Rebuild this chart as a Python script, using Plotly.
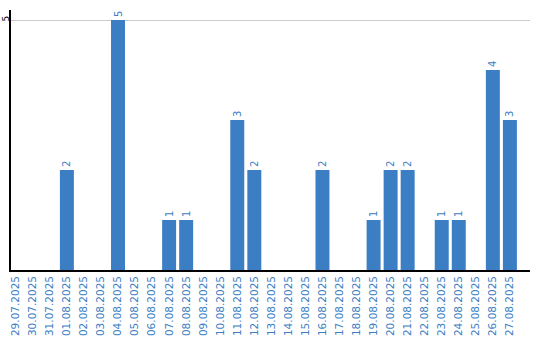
import plotly.graph_objects as go

dates = ["29.07.2025","30.07.2025","31.07.2025","01.08.2025","02.08.2025","03.08.2025",
         "04.08.2025","05.08.2025","06.08.2025","07.08.2025","08.08.2025","09.08.2025",
         "10.08.2025","11.08.2025","12.08.2025","13.08.2025","14.08.2025","15.08.2025",
         "16.08.2025","17.08.2025","18.08.2025","19.08.2025","20.08.2025","21.08.2025",
         "22.08.2025","23.08.2025","24.08.2025","25.08.2025","26.08.2025","27.08.2025"]
values = [0,0,0,2,0,0,5,0,0,1,1,0,0,3,2,0,0,0,2,0,0,1,2,2,0,1,1,0,4,3]

blue = "#3b7ec4"
labels = [str(v) if v > 0 else "" for v in values]
font = "DejaVu Sans, Verdana, sans-serif"

fig = go.Figure(go.Bar(
    x=list(range(len(dates))), y=values, width=0.82,
    marker=dict(color=blue, line=dict(width=0)),
    text=labels, textposition="outside", textangle=-90, cliponaxis=False,
    textfont=dict(family=font, size=10, color=blue),
))
fig.update_layout(
    width=540, height=340, margin=dict(l=11, r=10, t=10, b=70),
    plot_bgcolor="white", paper_bgcolor="white", showlegend=False,
    xaxis=dict(tickmode="array", tickvals=list(range(len(dates))), ticktext=dates,
               tickangle=-90, range=[-0.28, 30.18], showgrid=False, zeroline=False,
               showline=True, linecolor="black", linewidth=1.5, ticks="",
               tickfont=dict(family=font, size=10.5, color=blue), automargin=False),
    yaxis=dict(range=[0, 5.2], tickvals=[5], ticktext=["5"], tickangle=-90,
               showgrid=True, gridcolor="#cccccc", zeroline=False,
               showline=True, linecolor="black", linewidth=1.5, ticks="",
               ticklabelstandoff=-3,
               tickfont=dict(family=font, size=9, color="black"), automargin=False),
)
fig.write_html("out.html")
